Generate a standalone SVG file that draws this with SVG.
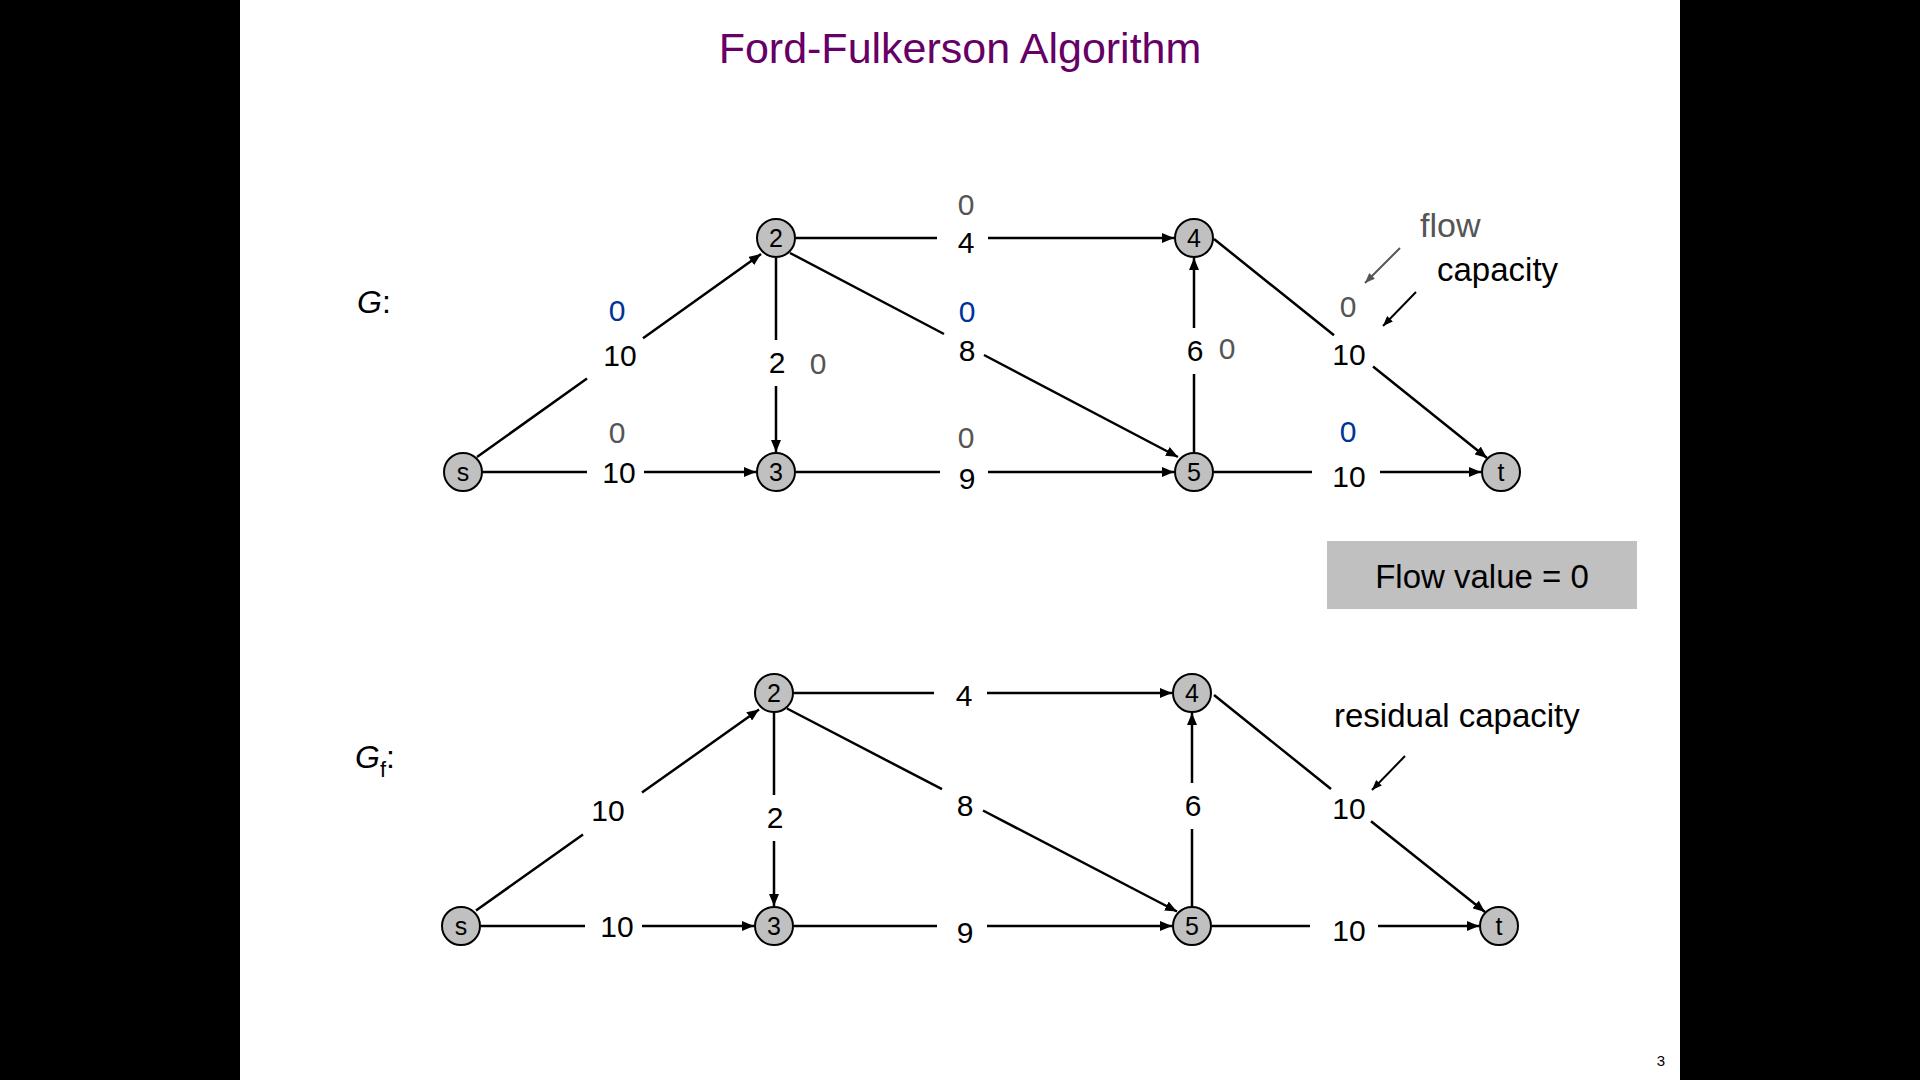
<svg xmlns="http://www.w3.org/2000/svg" width="1920" height="1080" viewBox="0 0 1920 1080">
<style>
text{font-family:"Liberation Sans","DejaVu Sans",sans-serif}
.title{font-size:43px;fill:#660066;text-anchor:middle}
.node circle{fill:#c0c0c0;stroke:#000;stroke-width:2}
.node text{font-size:25px;fill:#000;text-anchor:middle}
.edge{fill:none;stroke:#000;stroke-width:2.5;marker-end:url(#ah)}
.lbl{font-size:30px;fill:#000;text-anchor:middle}
.fl{font-size:30px;fill:#555;text-anchor:middle}
.fb{font-size:30px;fill:#003399;text-anchor:middle}
.note{font-size:33px;fill:#000}
.gl{font-size:32px;font-style:italic;fill:#000}
</style>
<defs>
<marker id="ah" viewBox="0 0 12 10" refX="12" refY="5" markerWidth="12" markerHeight="10" markerUnits="userSpaceOnUse" orient="auto"><path d="M0,0 L12,5 L0,10 Z" fill="#000"/></marker>
<marker id="ahs" viewBox="0 0 10 8" refX="10" refY="4" markerWidth="10" markerHeight="8" markerUnits="userSpaceOnUse" orient="auto"><path d="M0,0 L10,4 L0,8 Z" fill="#000"/></marker>
<marker id="ahg" viewBox="0 0 10 8" refX="10" refY="4" markerWidth="10" markerHeight="8" markerUnits="userSpaceOnUse" orient="auto"><path d="M0,0 L10,4 L0,8 Z" fill="#555"/></marker>
</defs>
<rect x="0" y="0" width="1920" height="1080" fill="#000"/>
<rect x="240" y="0" width="1440" height="1080" fill="#fff"/>
<text class="title" x="960" y="63">Ford-Fulkerson Algorithm</text>

<g id="connectors">
<!-- upper graph G -->
<path class="edge" d="M477,457 L587,378.4 M643,338.3 L761,254"/>
<path class="edge" d="M483,472 L587,472 M644,472 L756,472"/>
<path class="edge" d="M776,258 L776,340 M776,386 L776,452"/>
<path class="edge" d="M796,238 L937,238 M988,238 L1174,238"/>
<path class="edge" d="M790,253 L944,334 M984,355 L1178,457"/>
<path class="edge" d="M796,472 L940,472 M988,472 L1174,472"/>
<path class="edge" d="M1194,452 L1194,374 M1194,328 L1194,258"/>
<path class="edge" d="M1214,239 L1334,335.3 M1373,366.5 L1487,458"/>
<path class="edge" d="M1214,472 L1312,472 M1380,472 L1481,472"/>
<!-- lower graph Gf -->
<path class="edge" d="M476,910.5 L583,834.5 M642,792.6 L759,709.5"/>
<path class="edge" d="M481,926 L585,926 M642,926 L754,926"/>
<path class="edge" d="M774,713 L774,795 M774,841 L774,906"/>
<path class="edge" d="M794,693 L934,693 M987,693 L1172,693"/>
<path class="edge" d="M787,708.5 L942,789.2 M983,810.5 L1177,911.5"/>
<path class="edge" d="M794,926 L937,926 M987,926 L1172,926"/>
<path class="edge" d="M1192,906 L1192,829 M1192,783 L1192,713"/>
<path class="edge" d="M1214,695 L1331,789 M1371,821.3 L1485,912"/>
<path class="edge" d="M1212,926 L1310,926 M1378,926 L1479,926"/>
<!-- annotation arrows -->
<line x1="1400" y1="248" x2="1365" y2="283" stroke="#555" stroke-width="2" marker-end="url(#ahg)"/>
<line x1="1416" y1="292" x2="1383" y2="326" stroke="#000" stroke-width="2" marker-end="url(#ahs)"/>
<line x1="1405" y1="756" x2="1372" y2="790" stroke="#000" stroke-width="2" marker-end="url(#ahs)"/>
</g>

<g id="edge-labels">
<text class="fb" x="617" y="321">0</text>
<text class="lbl" x="620" y="366">10</text>
<text class="fl" x="617" y="443">0</text>
<text class="lbl" x="619" y="483">10</text>
<text class="lbl" x="777" y="373">2</text>
<text class="fl" x="818" y="374">0</text>
<text class="fl" x="966" y="215">0</text>
<text class="lbl" x="966" y="253">4</text>
<text class="fb" x="967" y="322">0</text>
<text class="lbl" x="967" y="361">8</text>
<text class="fl" x="966" y="448">0</text>
<text class="lbl" x="967" y="489">9</text>
<text class="lbl" x="1195" y="361">6</text>
<text class="fl" x="1227" y="359">0</text>
<text class="fl" x="1348" y="317">0</text>
<text class="lbl" x="1349" y="365">10</text>
<text class="fb" x="1348" y="442">0</text>
<text class="lbl" x="1349" y="487">10</text>

<text class="lbl" x="608" y="821">10</text>
<text class="lbl" x="617" y="937">10</text>
<text class="lbl" x="775" y="828">2</text>
<text class="lbl" x="964" y="706">4</text>
<text class="lbl" x="965" y="816">8</text>
<text class="lbl" x="965" y="943">9</text>
<text class="lbl" x="1193" y="816">6</text>
<text class="lbl" x="1349" y="819">10</text>
<text class="lbl" x="1349" y="941">10</text>
</g>

<g id="G-s" class="node"><circle cx="463" cy="472" r="19"/><text x="463" y="481">s</text></g>
<g id="G-2" class="node"><circle cx="776" cy="238" r="19"/><text x="776" y="247">2</text></g>
<g id="G-3" class="node"><circle cx="776" cy="472" r="19"/><text x="776" y="481">3</text></g>
<g id="G-4" class="node"><circle cx="1194" cy="238" r="19"/><text x="1194" y="247">4</text></g>
<g id="G-5" class="node"><circle cx="1194" cy="472" r="19"/><text x="1194" y="481">5</text></g>
<g id="G-t" class="node"><circle cx="1501" cy="472" r="19"/><text x="1501" y="481">t</text></g>

<g id="Gf-s" class="node"><circle cx="461" cy="926" r="19"/><text x="461" y="935">s</text></g>
<g id="Gf-2" class="node"><circle cx="774" cy="693" r="19"/><text x="774" y="702">2</text></g>
<g id="Gf-3" class="node"><circle cx="774" cy="926" r="19"/><text x="774" y="935">3</text></g>
<g id="Gf-4" class="node"><circle cx="1192" cy="693" r="19"/><text x="1192" y="702">4</text></g>
<g id="Gf-5" class="node"><circle cx="1192" cy="926" r="19"/><text x="1192" y="935">5</text></g>
<g id="Gf-t" class="node"><circle cx="1499" cy="926" r="19"/><text x="1499" y="935">t</text></g>

<g id="graph-names">
<text class="gl" x="357" y="313">G<tspan font-style="normal">:</tspan></text>
<text class="gl" x="355" y="768">G<tspan font-size="22" font-style="normal" dy="9">f</tspan><tspan font-style="normal" dy="-9">:</tspan></text>
</g>

<g id="annotations">
<text x="1420" y="237" font-size="34" fill="#555">flow</text>
<text class="note" x="1437" y="281">capacity</text>
<text class="note" x="1334" y="727">residual capacity</text>
</g>

<g id="flow-value">
<rect x="1327" y="541" width="310" height="68" fill="#c0c0c0"/>
<text x="1482" y="588" font-size="33" text-anchor="middle" fill="#000">Flow value = 0</text>
</g>

<text x="1661" y="1066" font-size="15" text-anchor="middle" fill="#000">3</text>
</svg>
